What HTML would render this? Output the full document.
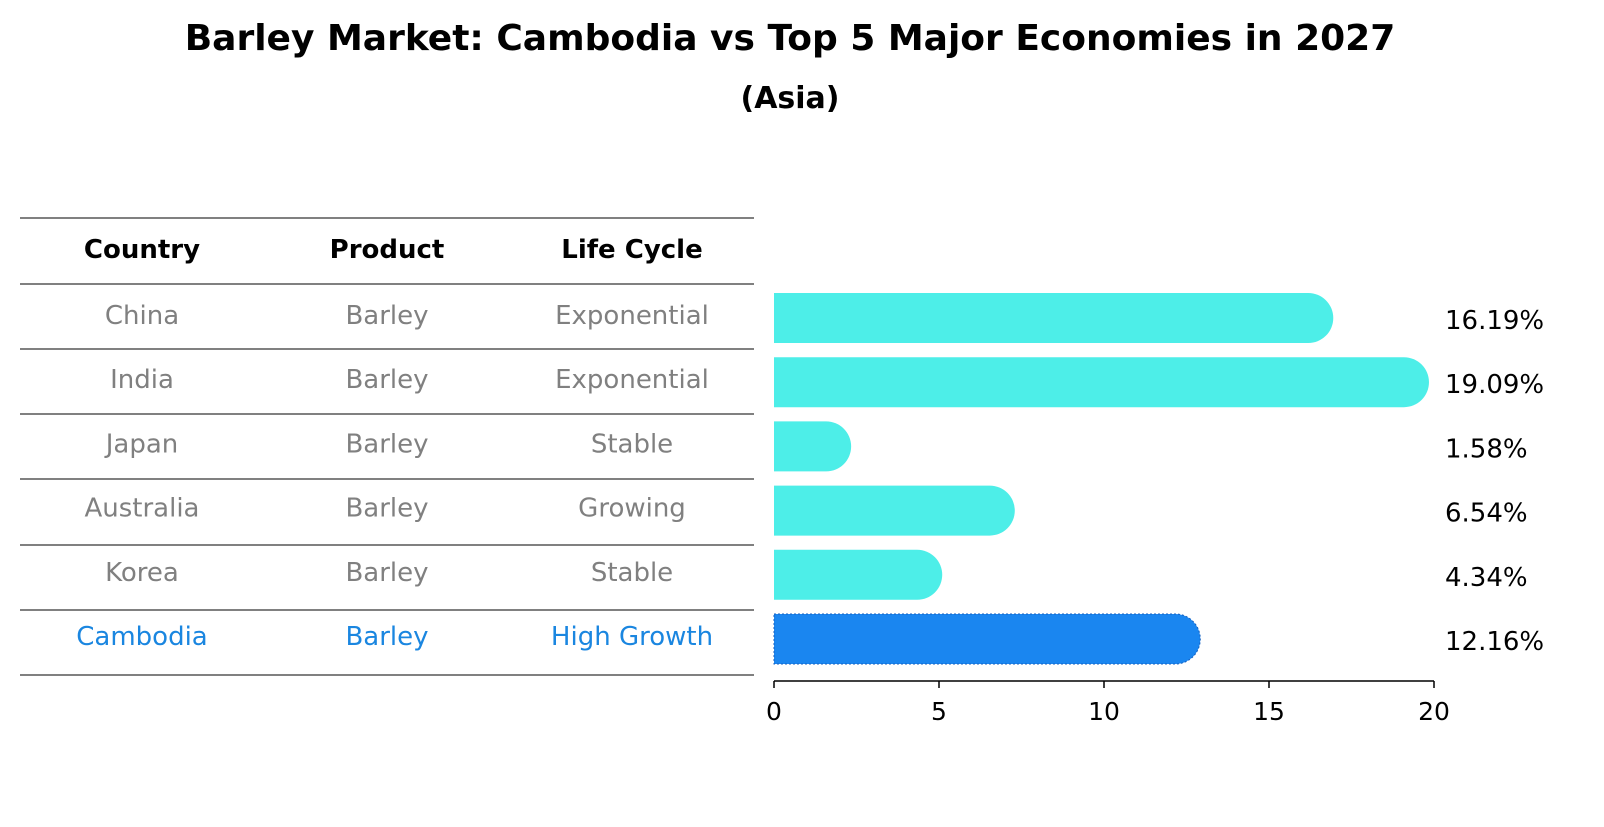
<!DOCTYPE html>
<html><head><meta charset="utf-8"><style>
body{margin:0;background:#fff;font-family:"DejaVu Sans","Liberation Sans",sans-serif}
svg text{font-family:"DejaVu Sans","Liberation Sans",sans-serif}
</style></head><body>
<svg id="c" width="1604" height="823">
<text x="790" y="50" font-size="36" font-weight="bold" text-anchor="middle">Barley Market: Cambodia vs Top 5 Major Economies in 2027</text>
<text x="790" y="108" font-size="30" font-weight="bold" text-anchor="middle">(Asia)</text>
<g id="tbl"></g>
<g id="bars"></g>
</svg>
<script>
const countries=["China","India","Japan","Australia","Korea","Cambodia"];
const products=["Barley","Barley","Barley","Barley","Barley","Barley"];
const lifeCycles=["Exponential","Exponential","Stable","Growing","Stable","High Growth"];
const values=[16.19,19.09,1.58,6.54,4.34,12.16];
const ticks=[0,5,10,15,20];
const NS="http://www.w3.org/2000/svg";
function mk(t,a,p,txt){const e=document.createElementNS(NS,t);for(const k in a)e.setAttribute(k,a[k]);if(txt!==undefined)e.textContent=txt;p.appendChild(e);return e;}
const tbl=document.getElementById('tbl'),bars=document.getElementById('bars');
const rowY=i=>318+i*64.2;
const x=v=>774+v*33;
const colX=[142,387,632];
const lineYs=[218,284,349,414,479,545,610,675];
lineYs.forEach((y,i)=>{const l=mk('line',{x1:20,x2:754,y1:y,y2:y,stroke:'#000','stroke-width':1},tbl);});
["Country","Product","Life Cycle"].forEach((h,j)=>{const t=mk('text',{x:colX[j],y:258,'font-size':26,'font-weight':'bold','text-anchor':'middle'},tbl,h);});
countries.forEach((c,i)=>{
 const col=i===5?'#1a86e0':'#808080';
 [c,products[i],lifeCycles[i]].forEach((s,j)=>{const t=mk('text',{x:colX[j],y:rowY(i)+6,'font-size':26,fill:col,'text-anchor':'middle'},tbl,s);});
});
const r=25;
values.forEach((v,i)=>{
 const cy=rowY(i), col=i===5?'#1a86f0':'#4deee8';
 const xe=x(v);
 const p=mk('path',{d:`M${x(0)},${cy-r} L${xe},${cy-r} A${r},${r} 0 0 1 ${xe},${cy+r} L${x(0)},${cy+r} Z`,fill:col},bars);
 if(i===5){p.setAttribute('stroke','#1560c0');p.setAttribute('stroke-dasharray','2,2');p.setAttribute('stroke-width','1');}
 
 
 const t=mk('text',{x:1445,y:cy+11,'font-size':26},bars,v.toFixed(2)+'%');
 
 
});
const ax=mk('line',{x1:x(0),x2:x(20),y1:681,y2:681,stroke:'#000','stroke-width':1.5},bars);


ticks.forEach(tv=>{
 const l=mk('line',{x1:x(tv),x2:x(tv),y1:681,y2:688,stroke:'#000','stroke-width':1.5},bars);
 
 
 const t=mk('text',{x:x(tv),y:720,'font-size':25,'text-anchor':'middle'},bars,String(tv));
 
 
});
</script>
</body></html>
